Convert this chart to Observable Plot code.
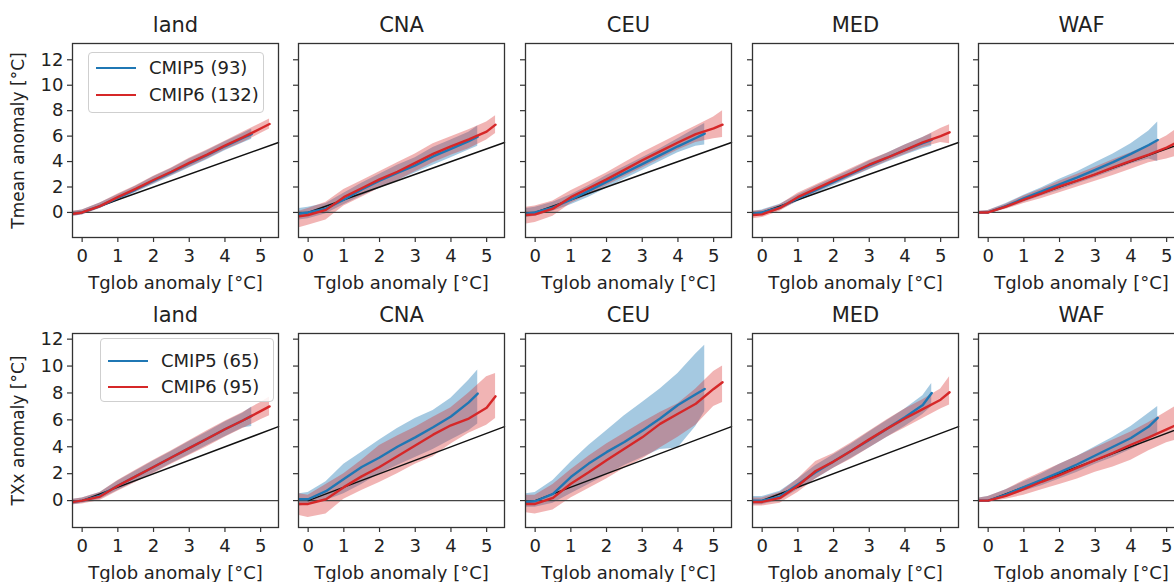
<!DOCTYPE html>
<html><head><meta charset="utf-8">
<script src="https://cdn.jsdelivr.net/npm/d3@7"></script>
<script src="https://cdn.jsdelivr.net/npm/@observablehq/plot@0.6"></script>
<style>
body{margin:0;background:#fff;overflow:hidden;font-family:"DejaVu Sans",sans-serif;}
#wrap{position:relative;width:1174px;height:582px;overflow:hidden;background:#fff;}
.panel{position:absolute;}
.legend{position:absolute;border:1px solid #cfcfcf;border-radius:4px;background:rgba(255,255,255,0.85);box-sizing:border-box;}
.legend .ln{position:absolute;height:2.5px;width:40px;}
.legend .tx{position:absolute;font-size:18px;color:#222;line-height:20px;white-space:nowrap;}
</style></head><body><div id="wrap"></div>
<script>
// ---- categories / labels ----
const regions = ["land", "CNA", "CEU", "MED", "WAF"];
const rowVars = ["Tmean", "TXx"];
const yLabels = ["Tmean anomaly [°C]", "TXx anomaly [°C]"];
const xLabel = "Tglob anomaly [°C]";
const legendLabels = [["CMIP5 (93)", "CMIP6 (132)"], ["CMIP5 (65)", "CMIP6 (95)"]];
const xTicks = [0, 1, 2, 3, 4, 5];
const yTicks = [0, 2, 4, 6, 8, 10, 12];
const refLine = [0, 5.5]; // 1:1 line (Tregional = Tglob)

// ---- x grids (Tglob anomaly) ----
const x5 = [-0.25, 0, 0.5, 1, 1.5, 2, 2.5, 3, 3.5, 4, 4.5, 4.75];
const x6 = [-0.25, 0, 0.5, 1, 1.5, 2, 2.5, 3, 3.5, 4, 4.5, 5, 5.25];

// ---- Tmean (top row) ----
const tmean_land_c5 = {mid:[-0.1,0.0,0.5,1.15,1.8,2.5,3.15,3.85,4.5,5.2,5.85,6.15], lo:[-0.3,-0.2,0.3,0.9,1.55,2.2,2.85,3.5,4.15,4.85,5.45,5.75], hi:[0.1,0.2,0.75,1.4,2.05,2.8,3.45,4.2,4.85,5.55,6.2,6.55]};
const tmean_land_c6 = {mid:[-0.1,0.0,0.5,1.2,1.85,2.55,3.2,3.9,4.55,5.25,5.9,6.6,6.95], lo:[-0.3,-0.2,0.3,0.95,1.6,2.25,2.9,3.55,4.2,4.9,5.5,6.2,6.55], hi:[0.1,0.2,0.75,1.45,2.1,2.85,3.5,4.25,4.9,5.6,6.3,7.0,7.35]};
const tmean_cna_c5 = {mid:[-0.1,0.0,0.3,1.0,1.8,2.5,3.1,3.7,4.4,5.0,5.6,5.95], lo:[-0.6,-0.5,-0.1,0.6,1.3,1.9,2.5,3.1,3.7,4.3,4.9,5.2], hi:[0.3,0.4,0.7,1.5,2.3,3.0,3.7,4.3,5.1,5.7,6.3,6.8]};
const tmean_cna_c6 = {mid:[-0.3,-0.2,0.2,1.2,1.9,2.6,3.2,3.9,4.6,5.2,5.75,6.35,6.9], lo:[-1.2,-1.0,-0.6,0.5,1.2,1.9,2.5,3.2,3.9,4.5,5.0,5.7,6.2], hi:[0.1,0.3,0.8,1.8,2.5,3.2,3.9,4.6,5.4,5.95,6.5,7.1,7.6]};
const tmean_ceu_c5 = {mid:[-0.1,0.0,0.4,1.0,1.7,2.4,3.1,3.8,4.5,5.2,5.85,6.2], lo:[-0.4,-0.3,0.1,0.6,1.2,1.9,2.6,3.3,4.0,4.7,5.2,5.3], hi:[0.3,0.4,0.8,1.4,2.1,2.9,3.6,4.3,5.0,5.8,6.6,7.0]};
const tmean_ceu_c6 = {mid:[-0.2,-0.15,0.3,1.2,1.9,2.6,3.35,4.1,4.8,5.5,6.15,6.6,6.9], lo:[-0.9,-0.8,-0.3,0.7,1.4,2.1,2.8,3.5,4.2,4.9,5.5,5.8,5.9], hi:[0.4,0.5,0.9,1.7,2.4,3.1,3.9,4.7,5.4,6.1,6.8,7.5,8.0]};
const tmean_med_c5 = {mid:[-0.1,0.0,0.4,1.1,1.75,2.4,3.05,3.7,4.3,4.9,5.45,5.7], lo:[-0.3,-0.2,0.2,0.85,1.45,2.1,2.75,3.35,3.95,4.5,5.0,5.2], hi:[0.1,0.2,0.65,1.4,2.05,2.7,3.35,4.05,4.65,5.3,5.9,6.2]};
const tmean_med_c6 = {mid:[-0.2,-0.15,0.35,1.2,1.85,2.5,3.1,3.75,4.3,4.9,5.5,6.0,6.3], lo:[-0.5,-0.4,0.1,0.9,1.55,2.2,2.8,3.4,4.0,4.55,5.1,5.5,5.4], hi:[0.1,0.15,0.6,1.5,2.15,2.8,3.45,4.1,4.65,5.3,5.9,6.6,6.9]};
const tmean_waf_c5 = {mid:[0.0,0.0,0.5,1.1,1.65,2.2,2.75,3.35,3.95,4.6,5.3,5.7], lo:[-0.1,-0.1,0.3,0.8,1.3,1.75,2.25,2.75,3.25,3.8,4.2,4.0], hi:[0.1,0.15,0.7,1.35,1.95,2.6,3.2,3.9,4.6,5.4,6.4,7.1]};
const tmean_waf_c6 = {mid:[0.0,0.0,0.45,1.0,1.5,2.05,2.5,3.0,3.55,4.05,4.55,5.1,5.45], lo:[-0.1,-0.1,0.25,0.7,1.1,1.55,2.0,2.45,2.9,3.4,3.9,4.2,4.4], hi:[0.1,0.15,0.65,1.3,1.85,2.45,3.0,3.55,4.15,4.7,5.3,6.0,6.5]};

// ---- TXx (bottom row) ----
const txx_land_c5 = {mid:[-0.1,0.0,0.35,1.1,1.8,2.5,3.2,3.9,4.6,5.3,5.95,6.3], lo:[-0.3,-0.2,0.1,0.75,1.4,2.05,2.75,3.4,4.1,4.75,5.4,5.5], hi:[0.1,0.2,0.6,1.45,2.2,2.95,3.65,4.4,5.1,5.85,6.5,6.95]};
const txx_land_c6 = {mid:[-0.1,0.0,0.3,1.1,1.8,2.5,3.2,3.9,4.6,5.3,5.95,6.65,7.0], lo:[-0.3,-0.25,0.0,0.7,1.35,2.0,2.7,3.35,4.0,4.7,5.35,6.0,6.3], hi:[0.1,0.2,0.6,1.5,2.25,3.0,3.7,4.45,5.2,5.9,6.55,7.3,7.7]};
const txx_cna_c5 = {mid:[0.1,0.1,0.7,1.6,2.5,3.2,4.0,4.7,5.45,6.25,7.3,7.95], lo:[-0.4,-0.3,0.0,0.5,1.2,2.0,2.6,3.2,3.8,4.5,5.2,5.7], hi:[0.5,0.6,1.4,2.7,3.6,4.5,5.35,6.1,6.7,7.6,8.95,9.7]};
const txx_cna_c6 = {mid:[-0.25,-0.25,0.1,1.0,1.8,2.5,3.3,4.1,4.9,5.6,6.1,6.9,7.75], lo:[-1.1,-1.25,-1.0,0.1,0.75,1.35,2.0,2.7,3.25,4.2,5.0,5.6,6.1], hi:[0.5,0.4,1.2,2.0,3.0,4.1,4.8,5.45,6.2,6.9,8.0,9.2,9.45]};
const txx_ceu_c5 = {mid:[-0.1,-0.05,0.5,1.75,2.75,3.6,4.35,5.2,6.1,7.1,7.9,8.3], lo:[-0.5,-0.5,-0.2,0.5,1.2,1.9,2.6,3.2,3.8,3.9,5.5,6.6], hi:[0.5,0.6,1.5,2.85,4.1,5.2,6.3,7.3,8.3,9.45,10.9,11.55]};
const txx_ceu_c6 = {mid:[-0.25,-0.25,0.2,1.25,2.1,3.0,3.85,4.7,5.7,6.45,7.2,8.3,8.8], lo:[-0.9,-1.0,-0.7,0.2,0.9,1.6,2.4,3.1,3.9,4.7,5.6,7.0,7.3], hi:[0.4,0.4,1.2,2.3,3.3,4.2,5.0,5.8,6.55,7.2,8.3,9.6,10.0]};
const txx_med_c5 = {mid:[0.0,0.0,0.3,1.2,2.1,2.9,3.7,4.5,5.35,6.2,7.1,8.0], lo:[-0.3,-0.3,0.0,0.8,1.6,2.4,3.15,3.9,4.7,5.5,6.4,7.0], hi:[0.3,0.3,0.7,1.6,2.6,3.4,4.2,5.1,5.95,6.8,7.8,8.7]};
const txx_med_c6 = {mid:[-0.1,-0.1,0.2,1.1,2.2,2.9,3.7,4.55,5.35,6.1,6.8,7.5,8.05], lo:[-0.4,-0.4,-0.2,0.6,1.6,2.4,3.1,3.9,4.7,5.4,6.1,6.8,7.1], hi:[0.2,0.2,0.6,1.6,2.9,3.5,4.3,5.15,6.0,6.8,7.5,8.3,9.2]};
const txx_waf_c5 = {mid:[0.0,0.0,0.45,1.0,1.55,2.1,2.7,3.35,4.0,4.65,5.5,6.15], lo:[-0.1,-0.1,0.25,0.7,1.1,1.6,2.1,2.7,3.2,3.8,4.5,5.0], hi:[0.2,0.3,0.8,1.4,2.0,2.7,3.3,4.0,4.7,5.5,6.5,7.0]};
const txx_waf_c6 = {mid:[0.0,0.0,0.35,0.85,1.4,1.9,2.45,3.0,3.55,4.15,4.7,5.3,5.6], lo:[-0.1,-0.1,0.1,0.4,0.8,1.2,1.6,2.1,2.5,3.0,3.7,4.3,4.5], hi:[0.2,0.3,0.8,1.5,2.1,2.7,3.3,3.9,4.5,5.1,5.8,6.6,7.0]};

const panelsC5 = [[tmean_land_c5, tmean_cna_c5, tmean_ceu_c5, tmean_med_c5, tmean_waf_c5], [txx_land_c5, txx_cna_c5, txx_ceu_c5, txx_med_c5, txx_waf_c5]];
const panelsC6 = [[tmean_land_c6, tmean_cna_c6, tmean_ceu_c6, tmean_med_c6, tmean_waf_c6], [txx_land_c6, txx_cna_c6, txx_ceu_c6, txx_med_c6, txx_waf_c6]];

// ---- style / layout ----
const BLUE = "#1f77b4", RED = "#d62728";
const colLeft = [72, 298, 525, 752, 978];
const rowTop = [43, 333];
const yDomains = [[-1.97, 13.28], [-2.0, 12.42]];
const FW = 206, FH = 194;
const ML = 72, MR = 12, MT = 43, MB = 55;

const rows = (xs, s) => xs.map((x, i) => ({x, mid: s.mid[i], lo: s.lo[i], hi: s.hi[i]}));
const wrap = document.getElementById("wrap");

for (let r = 0; r < 2; r++) {
  for (let c = 0; c < 5; c++) {
    const d5 = rows(x5, panelsC5[r][c]);
    const d6 = rows(x6, panelsC6[r][c]);
    const marks = [
      Plot.areaY(d5, {x: "x", y1: "lo", y2: "hi", fill: BLUE, fillOpacity: 0.4}),
      Plot.areaY(d6, {x: "x", y1: "lo", y2: "hi", fill: RED, fillOpacity: 0.35}),
      Plot.ruleY([0], {stroke: "#444", strokeWidth: 1.2}),
      Plot.line(refLine, {x: d => d, y: d => d, stroke: "#111", strokeWidth: 1.5}),
      Plot.line(d5, {x: "x", y: "mid", stroke: BLUE, strokeWidth: 2.4}),
      Plot.line(d6, {x: "x", y: "mid", stroke: RED, strokeWidth: 2.4}),
      Plot.frame({stroke: "#333", strokeWidth: 1.3}),
      Plot.axisX({ticks: xTicks, tickFormat: d => String(d), tickSize: 5, tickPadding: 7, label: null, fontSize: 18, stroke: "#333", strokeWidth: 1.2}),
      Plot.axisY({ticks: yTicks, tickSize: 5, tickPadding: 4, label: null, fontSize: 18, stroke: "#333", strokeWidth: 1.2,
                  tickFormat: c === 0 ? (d => String(d)) : (() => "")}),
      Plot.text([regions[c]], {text: d => d, frameAnchor: "top", dy: -18, lineAnchor: "middle", fontSize: 21, fill: "#222"}),
      Plot.text([xLabel], {text: d => d, frameAnchor: "bottom", dy: 46, lineAnchor: "middle", fontSize: 18, fill: "#222"})
    ];
    if (c === 0) {
      marks.push(Plot.text([yLabels[r]], {text: d => d, frameAnchor: "left", dx: -54, rotate: -90, textAnchor: "middle", lineAnchor: "middle", fontSize: 17, fill: "#222"}));
    }
    const svg = Plot.plot({
      width: FW + ML + MR, height: FH + MT + MB,
      marginLeft: ML, marginRight: MR, marginTop: MT, marginBottom: MB,
      style: {background: "transparent", fontFamily: "'DejaVu Sans', sans-serif", fontSize: "18px", color: "#222", overflow: "visible"},
      x: {domain: [-0.27, 5.5]},
      y: {domain: yDomains[r]},
      marks
    });
    svg.classList.add("panel");
    svg.style.left = (colLeft[c] - ML) + "px";
    svg.style.top = (rowTop[r] - MT) + "px";
    svg.style.maxWidth = "none";
    wrap.appendChild(svg);
  }
}

// ---- legends (in the land panels) ----
const legendBoxes = [
  {left: 88, top: 52, width: 176, height: 61, lineY: [67, 94], lineX: 95, textX: 148},
  {left: 100, top: 338, width: 174, height: 64, lineY: [360, 386], lineX: 107, textX: 160}
];
const legendColors = [BLUE, RED];
legendBoxes.forEach((b, r) => {
  const box = document.createElement("div");
  box.className = "legend";
  Object.assign(box.style, {left: b.left + "px", top: b.top + "px", width: b.width + "px", height: b.height + "px"});
  wrap.appendChild(box);
  legendLabels[r].forEach((lab, i) => {
    const ln = document.createElement("div");
    ln.className = "ln";
    Object.assign(ln.style, {left: (b.lineX - b.left) + "px", top: (b.lineY[i] - b.top - 1.2) + "px", background: legendColors[i]});
    box.appendChild(ln);
    const tx = document.createElement("div");
    tx.className = "tx";
    tx.textContent = lab;
    Object.assign(tx.style, {left: (b.textX - b.left) + "px", top: (b.lineY[i] - b.top - 10) + "px"});
    box.appendChild(tx);
  });
});
</script>
</body></html>
